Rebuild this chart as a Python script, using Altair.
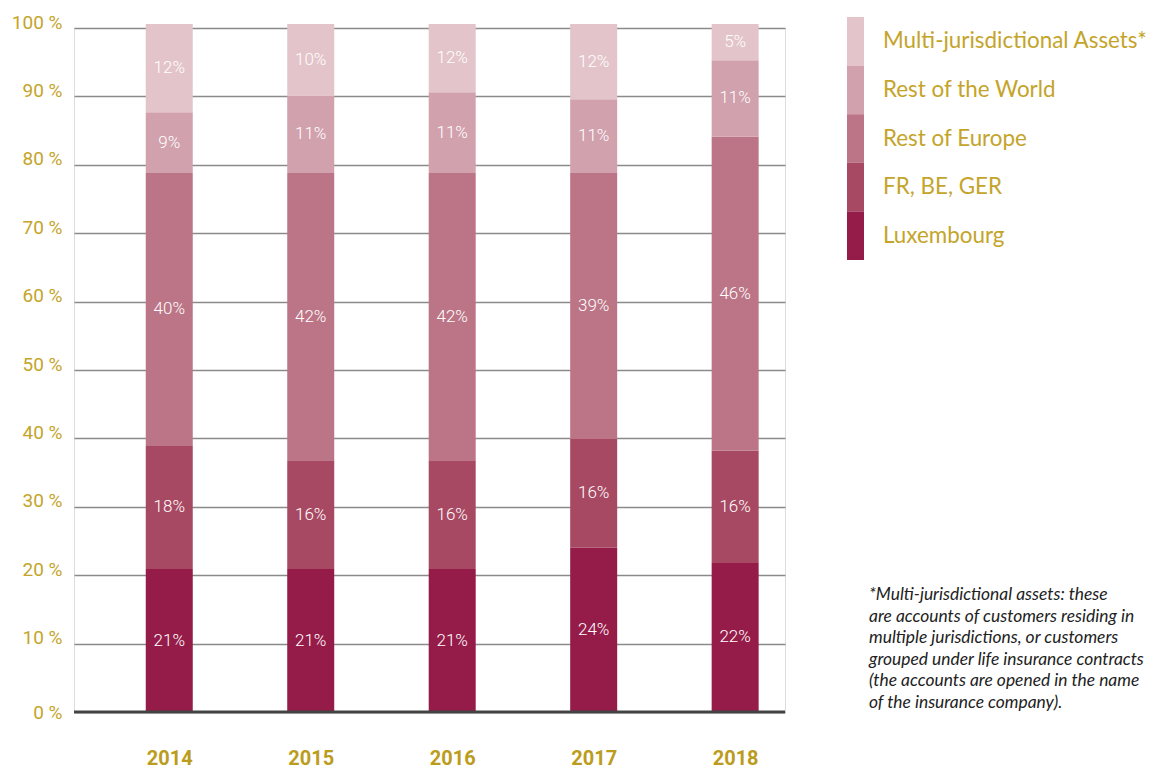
import altair as alt
import pandas as pd

years = [2014, 2015, 2016, 2017, 2018]
categories = ["Luxembourg", "FR, BE, GER", "Rest of Europe", "Rest of the World", "Multi-jurisdictional Assets*"]
colors = ["#951b49", "#a84963", "#bc7586", "#d1a1ad", "#e3c4ca"]

lux = [20.9, 20.9, 20.9, 24.0, 21.8]
fr_be_ger = [18.0, 15.9, 15.9, 15.9, 16.4]
rest_europe = [39.9, 42.0, 42.0, 38.9, 45.9]
rest_world = [8.9, 11.3, 11.8, 10.8, 11.2]
multi = [12.9, 10.5, 10.0, 11.0, 5.3]

lux_lbl = ["21%", "21%", "21%", "24%", "22%"]
fr_lbl = ["18%", "16%", "16%", "16%", "16%"]
roe_lbl = ["40%", "42%", "42%", "39%", "46%"]
row_lbl = ["9%", "11%", "11%", "11%", "11%"]
multi_lbl = ["12%", "10%", "12%", "12%", "5%"]

footnote_lines = [
    "*Multi-jurisdictional assets: these",
    "are accounts of customers residing in",
    "multiple jurisdictions, or customers",
    "grouped under life insurance contracts",
    "(the accounts are opened in the name",
    "of the insurance company).",
]

series = [lux, fr_be_ger, rest_europe, rest_world, multi]
labels = [lux_lbl, fr_lbl, roe_lbl, row_lbl, multi_lbl]
rows = []
for ci, (cat, vals, lbls) in enumerate(zip(categories, series, labels)):
    for y, v, l in zip(years, vals, lbls):
        rows.append({"year": y, "category": cat, "value": v, "label": l, "order": ci})
df = pd.DataFrame(rows)

legend_df = pd.DataFrame({"category": categories[::-1]})
foot_df = pd.DataFrame({"t": ["\n".join(footnote_lines)]})

GOLD = "#c4a42a"
color_scale = alt.Scale(domain=categories, range=colors)
y_scale = alt.Scale(domain=[0, 100], nice=False, zero=True)
x_scale = alt.Scale(domain=[2013.362, 2018.317], nice=False, zero=False)

base = alt.Chart(df).transform_stack(
    stack="value", groupby=["year"], as_=["v0", "v1"],
    sort=[alt.SortField("order", order="ascending")]
).transform_calculate(mid="(datum.v0 + datum.v1) / 2")

x_axis = alt.Axis(values=years, format="d", title=None, grid=False, ticks=False,
                  domain=False, labelFont="Roboto", labelFontSize=20,
                  labelFontWeight="bold", labelColor="#bb9c1c", labelPadding=36,
                  labelBaseline="top")

bars = base.mark_bar(size=47).encode(
    x=alt.X("year:Q", scale=x_scale, axis=x_axis),
    y=alt.Y("v0:Q", scale=y_scale,
            axis=alt.Axis(values=list(range(0, 101, 10)), title=None, ticks=False, domain=False,
                          labelExpr="datum.value + ' %'", labelFont="Roboto", labelFontSize=19,
                          labelColor=GOLD, labelPadding=12,
                          labelBaseline={"condition": {"test": "datum.value == 0", "value": "middle"}, "value": "alphabetic"},
                          gridColor="#8a8a8a", gridWidth=1.5)),
    y2="v1:Q",
    color=alt.Color("category:N", scale=color_scale, legend=None),
)

texts = base.mark_text(font="Roboto", fontWeight=300, fontSize=17, color="white", baseline="middle").encode(
    x=alt.X("year:Q", scale=x_scale, axis=x_axis),
    y=alt.Y("mid:Q", scale=y_scale, axis=None),
    text="label:N",
)

zero_rule = alt.Chart(pd.DataFrame({"z": [0]})).mark_rule(color="#444444", strokeWidth=3).encode(
    y=alt.Y("z:Q", scale=y_scale, axis=None)
)

leg_y = alt.Scale(domain=categories[::-1], range=[-11, 232], paddingInner=0, paddingOuter=0)
leg_rect = alt.Chart(legend_df).mark_rect().encode(
    x=alt.value(773), x2=alt.value(790),
    y=alt.Y("category:N", scale=leg_y, axis=None),
    color=alt.Color("category:N", scale=color_scale, legend=None),
)
leg_text = alt.Chart(legend_df).mark_text(align="left", baseline="middle", font="Lato",
                                          fontSize=22.4, color=GOLD).encode(
    x=alt.value(809),
    y=alt.Y("category:N", scale=leg_y, axis=None),
    text="category:N",
)

foot = alt.Chart(foot_df).mark_text(align="left", baseline="alphabetic", font="Lato",
                                    fontStyle="italic", fontSize=17.4, color="#222222",
                                    lineBreak="\n", lineHeight=21.5).encode(
    x=alt.value(795), y=alt.value(572), text="t:N"
)

chart = alt.layer(bars, texts, zero_rule, leg_rect, leg_text, foot).resolve_scale(
    y="independent"
).properties(
    width=711, height=684,
    autosize=alt.AutoSizeParams(type="none"),
    padding={"left": 66, "top": 20, "right": 366, "bottom": 57},
).configure_view(stroke=None).configure(background="white")

chart.save("out.html", embed_options={"renderer": "svg", "actions": False})
